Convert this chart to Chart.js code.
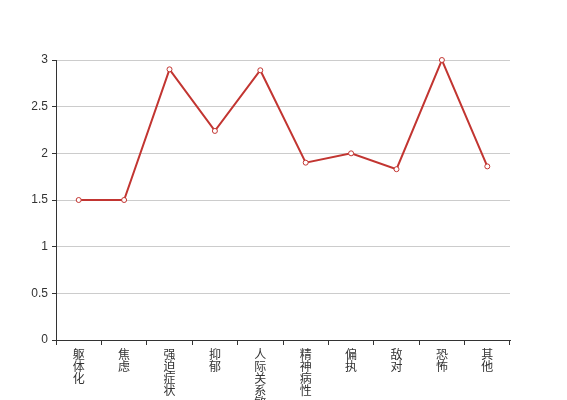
<!DOCTYPE html>
<html>
<head>
<meta charset="utf-8">
<script src="https://cdn.jsdelivr.net/npm/chart.js@4"></script>
<style>
  html, body { margin: 0; padding: 0; background: #fff; }
  #wrap { width: 567px; height: 400px; }
</style>
</head>
<body>
<div id="wrap"><canvas id="chart" width="567" height="400"></canvas></div>
<script>
// 因子名称
const categories = ['躯体化', '焦虑', '强迫症状', '抑郁', '人际关系敏感', '精神病性', '偏执', '敌对', '恐怖', '其他'];
// 因子得分
const scores = [1.5, 1.5, 2.9, 2.24, 2.89, 1.9, 2.0, 1.83, 3.0, 1.86];
const yTicks = [0, 0.5, 1, 1.5, 2, 2.5, 3];

const textColor = '#333';
const fontFamily = '"Liberation Sans", "Noto Sans CJK SC", sans-serif';

new Chart(document.getElementById('chart'), {
  type: 'line',
  data: {
    // 竖排标签：每个字一行
    labels: categories.map(c => c.split('')),
    datasets: [{
      data: scores,
      borderColor: '#c23531',
      borderWidth: 2,
      backgroundColor: '#fff',
      pointBackgroundColor: '#fff',
      pointBorderColor: '#c23531',
      pointBorderWidth: 1,
      pointRadius: 2.5,
      tension: 0,
      fill: false,
      clip: false
    }]
  },
  options: {
    responsive: false,
    animation: false,
    layout: { padding: { top: 60, right: 57, left: 0, bottom: 0 } },
    plugins: { legend: { display: false }, tooltip: { enabled: false } },
    scales: {
      x: {
        type: 'category',
        offset: true,
        afterFit: scale => { scale.height = 60; },
        border: { display: true, color: '#333', width: 1 },
        grid: { offset: true, drawOnChartArea: false, drawTicks: true, tickLength: 5, tickColor: '#333' },
        ticks: {
          autoSkip: false, maxRotation: 0, minRotation: 0, padding: 5,
          color: textColor, font: { family: fontFamily, size: 12, lineHeight: 1 }
        }
      },
      y: {
        min: 0, max: 3,
        afterFit: scale => { scale.width = 56; },
        afterBuildTicks: scale => { scale.ticks = yTicks.map(v => ({ value: v })); },
        border: { display: true, color: '#333', width: 1 },
        grid: { color: '#ccc', tickColor: '#333', tickLength: 4 },
        ticks: {
          padding: 4, color: textColor,
          font: { family: fontFamily, size: 12 },
          callback: v => String(v)
        }
      }
    }
  }
});
</script>
</body>
</html>
